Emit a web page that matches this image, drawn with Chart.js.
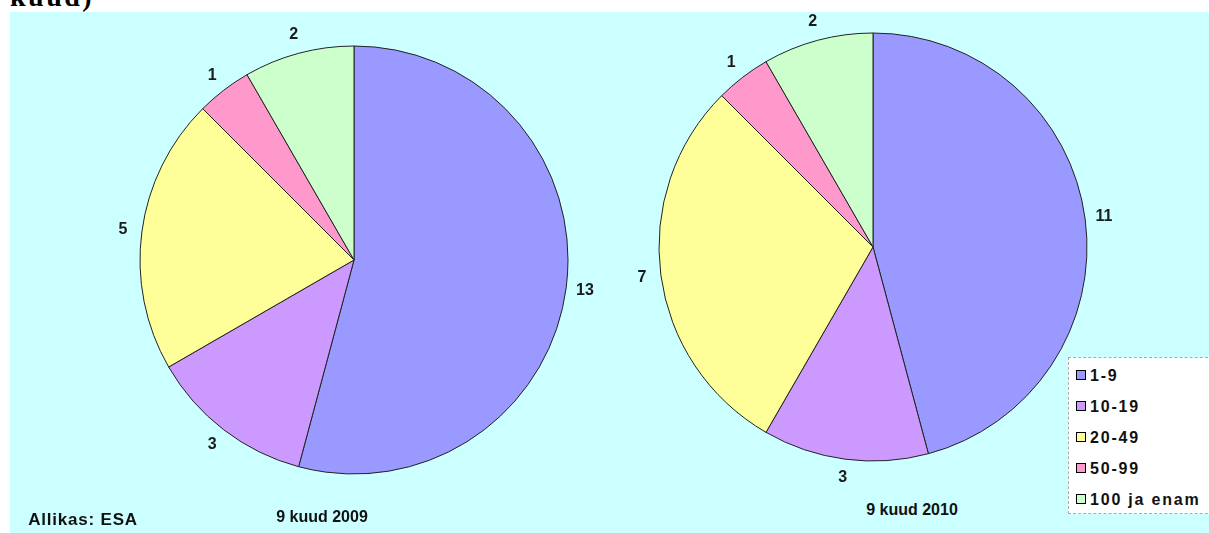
<!DOCTYPE html>
<html>
<head>
<meta charset="utf-8">
<script src="https://cdn.jsdelivr.net/npm/chart.js@4/dist/chart.umd.min.js"></script>
<style>
  html, body { margin: 0; padding: 0; background: #fff; }
  #page { position: relative; width: 1209px; height: 533px; overflow: hidden; font-family: "Liberation Sans", Arial, sans-serif; }
  #heading { position: absolute; left: 10px; top: -19px; font: bold 28px "Liberation Serif", "Times New Roman", serif; letter-spacing: 2.5px; color: #000; }
  #plot { position: absolute; left: 10px; top: 12px; width: 1199px; height: 521px; background: #ccffff; }
  canvas { position: absolute; }
  .txt { position: absolute; font-weight: bold; font-size: 16px; color: #111; white-space: nowrap; transform: translate(-50%, -50%); }
  #legend { position: absolute; left: 1068px; top: 357px; width: 150px; height: 157px; background: #fff; border: 1px dashed #aaa; box-sizing: border-box; }
  .item { position: absolute; left: 7px; height: 18px; font-weight: bold; font-size: 16px; letter-spacing: 1.8px; color: #111; line-height: 18px; }
  .item span { display: inline-block; width: 8px; height: 8px; border: 1px solid #000; margin-right: 4px; vertical-align: 1px; }
</style>
</head>
<body>
<div id="page">
  <div id="heading">kuud)</div>
  <div id="plot"></div>
  <canvas id="pie2009" width="520" height="500" style="left:94px;top:10px"></canvas>
  <canvas id="pie2010" width="520" height="494" style="left:613px;top:0px"></canvas>
  <div class="txt" style="left:322px;top:517px">9 kuud 2009</div>
  <div class="txt" style="left:912px;top:510px">9 kuud 2010</div>
  <div class="txt" style="left:83px;top:520px;font-size:17px;letter-spacing:0.8px">Allikas: ESA</div>
  <div id="legend"></div>
</div>
<script>
const categories = ['1-9', '10-19', '20-49', '50-99', '100 ja enam'];
const values2009 = [13, 3, 5, 1, 2];
const values2010 = [11, 3, 7, 1, 2];
const colors = ['#9999ff', '#cc99ff', '#ffff99', '#ff99cc', '#ccffcc'];

// value labels just outside each slice, at the slice's mid angle
const outsideLabels = {
  id: 'outsideLabels',
  afterDatasetsDraw(chart) {
    const ctx = chart.ctx;
    const data = chart.data.datasets[0].data;
    ctx.save();
    ctx.font = 'bold 16px "Liberation Sans", Arial, sans-serif';
    ctx.fillStyle = '#1a1a1a';
    ctx.textAlign = 'center';
    ctx.textBaseline = 'middle';
    chart.getDatasetMeta(0).data.forEach((arc, i) => {
      const p = arc.getProps(['x', 'y', 'startAngle', 'endAngle', 'outerRadius'], true);
      const mid = (p.startAngle + p.endAngle) / 2;
      const d = p.outerRadius + 19;
      ctx.fillText(String(data[i]), p.x + Math.cos(mid) * d, p.y + Math.sin(mid) * d);
    });
    ctx.restore();
  }
};

function makePie(id, values) {
  new Chart(document.getElementById(id), {
    type: 'pie',
    data: {
      labels: categories,
      datasets: [{ data: values, backgroundColor: colors, borderColor: '#222', borderWidth: 1 }]
    },
    options: {
      responsive: false,
      animation: false,
      radius: 214,
      layout: { padding: 0 },
      plugins: { legend: { display: false }, tooltip: { enabled: false } }
    },
    plugins: [outsideLabels]
  });
}

makePie('pie2009', values2009);
makePie('pie2010', values2010);

const legend = document.getElementById('legend');
categories.forEach((c, i) => {
  const row = document.createElement('div');
  row.className = 'item';
  row.style.top = (9 + i * 31) + 'px';
  row.innerHTML = '<span style="background:' + colors[i] + '"></span>' + c;
  legend.appendChild(row);
});
</script>
</body>
</html>
